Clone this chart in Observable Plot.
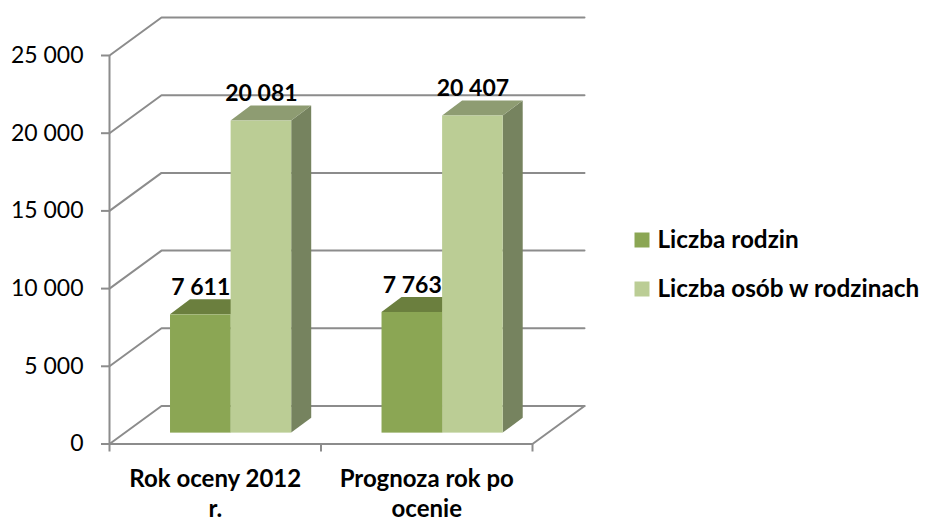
<!DOCTYPE html>
<html>
<head>
<meta charset="utf-8">
<script src="https://cdn.jsdelivr.net/npm/d3@7"></script>
<script src="https://cdn.jsdelivr.net/npm/@observablehq/plot@0.6"></script>
<style>html,body{margin:0;padding:0;background:#fff}svg{display:block}</style>
</head>
<body>
<div id="chart"></div>
<script>
const categories = ["Rok oceny 2012\nr.", "Prognoza rok po\nocenie"];
const liczbaRodzin = [7611, 7763];
const liczbaOsob = [20081, 20407];
const yTicks = [0, 5000, 10000, 15000, 20000, 25000];
const xTicks = [0, 1, 2];
const seriesNames = ["Liczba rodzin", "Liczba osób w rodzinach"];
const frontColors = ["#8ba654", "#bbcd95"];
const topColors = ["#6b7f3e", "#8e9c72"];
const sideColors = ["#6b7f3e", "#76835f"];

// projection constants of the fake 3D box, in data units
const wallDx = 0.2459, wallDy = 2445;
const barDx = 0.0946, barDy = 965, barBase = 700;
const barStart = 0.2885, barWidth = 0.2865;

const fmt = d3.formatLocale({thousands: " ", grouping: [3], decimal: ",", currency: ["", ""]}).format(",");

const wallLines = [
  ...yTicks.flatMap(v => [
    {k: "g" + v, x: 0, y: v},
    {k: "g" + v, x: wallDx, y: v + wallDy},
    {k: "g" + v, x: 2 + wallDx, y: v + wallDy}
  ]),
  {k: "floor", x: 2, y: 0},
  {k: "floor", x: 2 + wallDx, y: wallDy}
];

const bars = [liczbaRodzin, liczbaOsob].flatMap((vals, s) =>
  vals.map((v, c) => {
    const x1 = c + barStart + s * barWidth;
    return {s, c, v, x1, x2: x1 + barWidth, base: barBase, top: v + barBase, id: s + "-" + c};
  })
);
const topRows = bars.flatMap(b => [
  {id: b.id, s: b.s, x1: b.x1, x2: b.x2, y: b.top},
  {id: b.id, s: b.s, x1: b.x1 + barDx, x2: b.x2 + barDx, y: b.top + barDy}
]);
const sideRows = bars.flatMap(b => [
  {id: b.id, s: b.s, x: b.x2, y1: b.base, y2: b.top},
  {id: b.id, s: b.s, x: b.x2 + barDx, y1: b.base + barDy, y2: b.top + barDy}
]);
const sFill = arr => d => arr[d.s];
const grey = "#8c8c8c";
const font = "Lato, sans-serif";

const layer = s => [
  Plot.areaY(sideRows.filter(d => d.s === s), {x: "x", y1: "y1", y2: "y2", z: "id", fill: sFill(sideColors)}),
  Plot.areaX(topRows.filter(d => d.s === s), {x1: "x1", x2: "x2", y: "y", z: "id", fill: sFill(topColors)}),
  Plot.rect(bars.filter(d => d.s === s), {x1: "x1", x2: "x2", y1: "base", y2: "top", fill: sFill(frontColors)})
];

const plot = Plot.plot({
  width: 925,
  height: 521,
  marginLeft: 109,
  marginRight: 393,
  marginTop: 55,
  marginBottom: 77.5,
  style: {fontFamily: font, background: "#fff"},
  x: {domain: [0, 2], axis: null},
  y: {domain: [0, 25000], axis: null},
  marks: [
    Plot.line(wallLines, {x: "x", y: "y", z: "k", stroke: grey, strokeWidth: 2, curve: "linear"}),
    ...layer(0),
    ...layer(1),
    Plot.ruleX([0], {y1: 0, y2: 25000, stroke: grey, strokeWidth: 2}),
    Plot.ruleY([0], {x1: 0, x2: 2, stroke: grey, strokeWidth: 2}),
    Plot.axisY({ticks: yTicks, tickSize: 8, tickPadding: 18, tickFormat: fmt, label: null, stroke: grey, strokeWidth: 2, fill: "#000", fontSize: 23, fontVariant: "normal"}),
    Plot.axisX({ticks: xTicks, tickSize: 8, tickFormat: () => "", label: null, stroke: grey, strokeWidth: 2}),
    Plot.text(bars, {x: d => (d.x1 + d.x2) / 2, y: "top", text: d => fmt(d.v), dy: -27, fontSize: 23, fontWeight: "bold", fill: "#000", textAnchor: "middle"}),
    Plot.text(categories, {x: (d, i) => i + 0.5, y: () => 0, text: d => d, dy: 48.5, lineHeight: 1.27, fontSize: 24, fontWeight: "bold", fill: "#000", lineAnchor: "middle", textAnchor: "middle"}),
    Plot.dot(seriesNames, {frameAnchor: "top-left", dx: 532.5, symbol: "square", r: 8.46, fill: frontColors[0], filter: (d, i) => i === 0, dy: 184.5}),
    Plot.dot(seriesNames, {frameAnchor: "top-left", dx: 532.5, symbol: "square", r: 8.46, fill: frontColors[1], filter: (d, i) => i === 1, dy: 233.5}),
    Plot.text(seriesNames, {frameAnchor: "top-left", dx: 548, dy: 184.5, text: d => d, filter: (d, i) => i === 0, fontSize: 24.3, fontWeight: "bold", fill: "#000", textAnchor: "start", lineAnchor: "middle"}),
    Plot.text(seriesNames, {frameAnchor: "top-left", dx: 548, dy: 233.5, text: d => d, filter: (d, i) => i === 1, fontSize: 24.3, fontWeight: "bold", fill: "#000", textAnchor: "start", lineAnchor: "middle"})
  ]
});
document.getElementById("chart").appendChild(plot);
</script>
</body>
</html>
